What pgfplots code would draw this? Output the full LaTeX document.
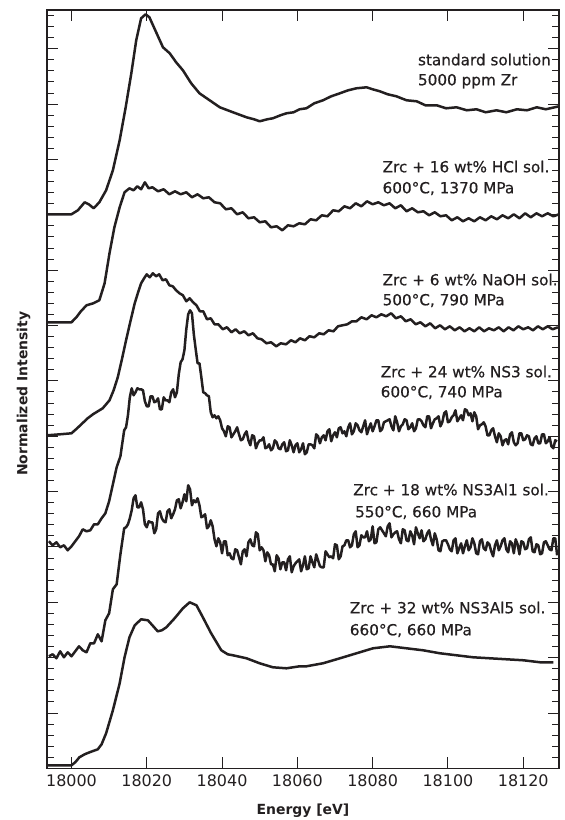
\documentclass[border=0pt]{standalone}
\usepackage{fontspec}
\setmainfont{DejaVu Sans}
\newfontfamily\lbl{DejaVu Sans}[FakeBold=0.5]
\usepackage{pgfplots}
\pgfplotsset{compat=1.18}
\definecolor{ink}{RGB}{35,31,32}
\tikzset{curve/.style={ink, solid, line width=2.5bp, line join=round, mark=none}}

\begin{document}
\begin{tikzpicture}
\begin{axis}[
    scale only axis,
    width=512bp, height=758.3bp,
    xmin=17993.5, xmax=18129.5,
    ymin=0, ymax=7.583,
    xtick={18000,18020,...,18120},
    minor x tick num=9,
    ytick={0,0.5535,...,7.5},
    minor y tick num=4,
    yticklabels={},
    scaled x ticks=false,
    major tick length=11bp,
    minor tick length=7bp,
    axis line style={line width=1.2bp, ink},
    every tick/.style={line width=0.9bp, ink},
    /pgf/number format/1000 sep={},
    /pgf/number format/assume math mode=true,
    xticklabel style={font=\fontsize{16}{18}\selectfont, yshift=-2.5bp, text=ink},
    clip=false,
]

% standard solution 5000 ppm Zr
\addplot[curve] coordinates {
(17993.5,5.54) (17998,5.54) (18000,5.54) (18001.7,5.58) (18003.5,5.66) (18004.6,5.64)
(18005.9,5.60) (18007.4,5.66) (18009.2,5.78) (18011,5.98) (18012.8,6.28) (18014.4,6.61)
(18015.9,6.95) (18017.2,7.28) (18018.5,7.50) (18019.7,7.54) (18020.7,7.51) (18022.5,7.36)
(18024.3,7.21) (18026.1,7.15) (18027.8,7.06) (18029.6,6.98) (18031.8,6.85) (18034,6.75)
(18036.7,6.68) (18039.4,6.61) (18042.9,6.56) (18046.5,6.51) (18048.5,6.49) (18050,6.47)
(18052,6.49) (18053.5,6.50) (18055.5,6.53) (18057.1,6.55) (18059,6.56) (18060.6,6.59)
(18062.4,6.60) (18064.5,6.65) (18066.8,6.68) (18069,6.72) (18071.3,6.75) (18073.5,6.78)
(18075.7,6.80) (18078.4,6.81) (18080,6.79) (18081.9,6.77) (18084,6.74) (18086.3,6.72)
(18089,6.68) (18091.7,6.67) (18094,6.63) (18097,6.63) (18099.5,6.60) (18102.3,6.61)
(18105,6.58) (18107.6,6.59) (18110,6.56) (18112.9,6.58) (18115.5,6.56) (18118.3,6.59)
(18121,6.58) (18123.6,6.61) (18126,6.59) (18129.5,6.62)
};

% Zrc + 16 wt% HCl
\addplot[curve] coordinates {
(17993.5,4.46) (17998,4.46) (18000,4.46) (18001.3,4.51) (18002.5,4.57) (18004,4.63)
(18005.8,4.65) (18007.4,4.68) (18008.8,4.85) (18010.1,5.15) (18011.4,5.41) (18012.8,5.61)
(18014.1,5.76) (18015.4,5.80) (18016.5,5.78) (18017.5,5.82) (18018.5,5.79) (18019.5,5.86)
(18020.5,5.80) (18021.5,5.81) (18023,5.77) (18024.5,5.79) (18026,5.74) (18027.5,5.77)
(18029,5.74) (18030.5,5.76) (18032,5.71) (18033.5,5.74) (18035,5.70) (18036.5,5.71)
(18038,5.66) (18039.5,5.65) (18041,5.59) (18042.5,5.60) (18044,5.54) (18045.5,5.56)
(18047,5.50) (18048.5,5.51) (18050,5.46) (18051.5,5.47) (18053,5.41) (18054.5,5.42)
(18056,5.38) (18057.5,5.43) (18059,5.42) (18060.5,5.45) (18062,5.44) (18063.5,5.49)
(18065,5.48) (18066.5,5.53) (18068,5.52) (18069.5,5.58) (18071,5.57) (18072.5,5.62)
(18074,5.60) (18075.5,5.65) (18077,5.62) (18078.5,5.67) (18080,5.64) (18081.5,5.66)
(18083,5.63) (18084.5,5.65) (18086,5.60) (18087.5,5.63) (18089,5.57) (18090.5,5.60)
(18092,5.56) (18093.5,5.57) (18095,5.53) (18096.5,5.56) (18098,5.52) (18099.5,5.53)
(18101,5.48) (18102.5,5.51) (18104,5.47) (18105.5,5.50) (18107,5.47) (18108.5,5.51)
(18110,5.48) (18111.5,5.52) (18113,5.49) (18114.5,5.53) (18116,5.50) (18117.5,5.54)
(18119,5.50) (18120.5,5.55) (18122,5.51) (18123.5,5.55) (18125,5.52) (18126.5,5.55)
(18128,5.52) (18129.5,5.54)
};

% Zrc + 6 wt% NaOH
\addplot[curve] coordinates {
(17993.5,3.33) (17997,3.34) (18000,3.35) (18001.5,3.40) (18002.9,3.45) (18004.3,3.50)
(18005.7,3.54) (18007,3.57) (18008.3,3.60) (18010.1,3.68) (18011.2,3.78) (18012.3,3.91)
(18013.4,4.09) (18014.5,4.28) (18015.6,4.46) (18016.8,4.65) (18017.7,4.76) (18018.5,4.85)
(18019.3,4.90) (18020,4.94) (18020.8,4.91) (18021.6,4.95) (18022.5,4.92) (18023.3,4.94)
(18024.2,4.88) (18025.1,4.89) (18026,4.83) (18026.9,4.82) (18027.8,4.78) (18028.7,4.75)
(18029.6,4.73) (18030.5,4.67) (18031.4,4.70) (18032.3,4.66) (18033.2,4.63) (18034.1,4.57)
(18035,4.57) (18036,4.49) (18037,4.50) (18038,4.44) (18039,4.44) (18040.2,4.39)
(18041.3,4.41) (18042.5,4.36) (18043.6,4.39) (18044.7,4.35) (18045.9,4.37) (18047,4.33)
(18048.2,4.35) (18049.4,4.30) (18050.5,4.29) (18051.8,4.25) (18053,4.26) (18054.4,4.22)
(18055.6,4.25) (18057,4.24) (18058.3,4.28) (18059.5,4.26) (18060.7,4.30) (18062,4.28)
(18063.2,4.32) (18064.5,4.31) (18065.8,4.35) (18067,4.34) (18068.3,4.38) (18069.6,4.37)
(18070.8,4.42) (18072,4.43) (18073.3,4.44) (18074.5,4.47) (18075.7,4.47) (18077,4.51)
(18078.4,4.49) (18079.7,4.53) (18081,4.51) (18082.3,4.54) (18083.6,4.52) (18084.9,4.55)
(18086.2,4.50) (18087.5,4.52) (18088.8,4.47) (18090.1,4.49) (18091.4,4.44) (18092.7,4.46)
(18094,4.42) (18095.3,4.45) (18096.6,4.40) (18097.9,4.43) (18099.2,4.39) (18100.5,4.42)
(18101.8,4.38) (18103.1,4.41) (18104.4,4.37) (18105.7,4.40) (18107,4.37) (18108.3,4.41)
(18109.6,4.37) (18110.9,4.40) (18112.2,4.38) (18113.5,4.41) (18114.8,4.37) (18116.1,4.41)
(18117.4,4.38) (18118.7,4.42) (18120,4.39) (18121.3,4.41) (18122.6,4.38) (18123.9,4.42)
(18125.2,4.39) (18126.5,4.42) (18127.8,4.39) (18129.2,4.41)
};

% Zrc + 24 wt% NS3
\addplot[curve] coordinates {
(17994,2.27) (17995,2.23) (17996,2.26) (17997,2.21) (17998,2.23) (17999,2.18)
(18000,2.22) (18001,2.27) (18002,2.32) (18003,2.39) (18004,2.37) (18005,2.38)
(18006,2.44) (18007,2.44) (18008,2.50) (18009,2.55) (18010,2.67) (18011,2.84)
(18012,3.01) (18013,3.12)
(18014,3.38) (18014.5,3.41) (18015,3.53) (18015.5,3.71) (18016,3.80) (18016.5,3.73)
(18017,3.76) (18017.5,3.80) (18018,3.79) (18018.5,3.79) (18019,3.78) (18019.5,3.67)
(18020,3.62) (18020.5,3.62) (18021,3.72) (18021.5,3.72) (18022,3.66) (18022.5,3.67)
(18023,3.70) (18023.5,3.59) (18024,3.59) (18024.5,3.71) (18025,3.68) (18025.5,3.68)
(18026,3.66) (18026.5,3.76) (18027,3.79) (18027.5,3.71) (18028,3.76) (18028.5,3.94)
(18029,4.06) (18029.5,4.09) (18030,4.18) (18030.5,4.39) (18031,4.54) (18031.5,4.58)
(18032,4.55) (18032.5,4.34) (18033,4.19) (18033.5,4.05) (18034,4.05) (18034.5,3.91)
(18035,3.76) (18035.5,3.75) (18036,3.73) (18036.5,3.72) (18037,3.56) (18037.5,3.51)
(18038,3.53) (18038.5,3.50) (18039,3.52) (18039.5,3.48) (18040,3.40) (18040.5,3.37)
(18041,3.32) (18041.5,3.42) (18042,3.41) (18042.5,3.31) (18043,3.34) (18043.5,3.37)
(18044,3.41) (18044.5,3.34) (18045,3.28) (18045.5,3.29) (18046,3.34) (18046.5,3.37)
(18047,3.28) (18047.5,3.23) (18048,3.33) (18048.5,3.32) (18049,3.20) (18049.5,3.25)
(18050,3.28) (18050.5,3.28) (18051,3.31) (18051.5,3.20) (18052,3.21) (18052.5,3.24)
(18053,3.18) (18053.5,3.20) (18054,3.28) (18054.5,3.26) (18055,3.20) (18055.5,3.19)
(18056,3.24) (18056.5,3.26) (18057,3.17) (18057.5,3.18) (18058,3.28) (18058.5,3.23)
(18059,3.16) (18059.5,3.23) (18060,3.25) (18060.5,3.16) (18061,3.19) (18061.5,3.25)
(18062,3.14) (18062.5,3.16) (18063,3.24) (18063.5,3.24) (18064,3.23) (18064.5,3.20)
(18065,3.34) (18065.5,3.32) (18066,3.25) (18066.5,3.31) (18067,3.33) (18067.5,3.28)
(18068,3.37) (18068.5,3.39) (18069,3.27) (18069.5,3.33) (18070,3.36) (18070.5,3.31)
(18071,3.40) (18071.5,3.41) (18072,3.35) (18072.5,3.37) (18073,3.32) (18073.5,3.41)
(18074,3.45) (18074.5,3.34) (18075,3.37) (18075.5,3.45) (18076,3.43) (18076.5,3.38)
(18077,3.36) (18077.5,3.42) (18078,3.48) (18078.5,3.34) (18079,3.40) (18079.5,3.45)
(18080,3.37) (18080.5,3.42) (18081,3.48) (18081.5,3.48) (18082,3.37) (18082.5,3.39)
(18083,3.46) (18083.5,3.47) (18084,3.48) (18084.5,3.49) (18085,3.42) (18085.5,3.38)
(18086,3.52) (18086.5,3.46) (18087,3.37) (18087.5,3.42) (18088,3.44) (18088.5,3.49)
(18089,3.48) (18089.5,3.39) (18090,3.41) (18090.5,3.45) (18091,3.37) (18091.5,3.40)
(18092,3.49) (18092.5,3.49) (18093,3.47) (18093.5,3.43) (18094,3.41) (18094.5,3.52)
(18095,3.52) (18095.5,3.40) (18096,3.45) (18096.5,3.49) (18097,3.50) (18097.5,3.52)
(18098,3.42) (18098.5,3.46) (18099,3.55) (18099.5,3.57) (18100,3.46) (18100.5,3.47)
(18101,3.51) (18101.5,3.53) (18102,3.58) (18102.5,3.47) (18103,3.50) (18103.5,3.53)
(18104,3.48) (18104.5,3.59) (18105,3.58) (18105.5,3.53) (18106,3.55) (18106.5,3.47)
(18107,3.56) (18107.5,3.52) (18108,3.39) (18108.5,3.43) (18109,3.44) (18109.5,3.46)
(18110,3.42) (18110.5,3.33) (18111,3.33) (18111.5,3.38) (18112,3.40) (18112.5,3.32)
(18113,3.26) (18113.5,3.35) (18114,3.32) (18114.5,3.23) (18115,3.28) (18115.5,3.29)
(18116,3.24) (18116.5,3.34) (18117,3.36) (18117.5,3.26) (18118,3.23) (18118.5,3.25)
(18119,3.35) (18119.5,3.35) (18120,3.28) (18120.5,3.29) (18121,3.33) (18121.5,3.32)
(18122,3.24) (18122.5,3.23) (18123,3.30) (18123.5,3.32) (18124,3.25) (18124.5,3.25)
(18125,3.34) (18125.5,3.34) (18126,3.25) (18126.5,3.27) (18127,3.31) (18127.5,3.22)
(18128,3.20) (18128.5,3.28) (18129,3.27)
};

% Zrc + 18 wt% NS3Al1
\addplot[curve] coordinates {
(17994,1.12) (17995,1.14) (17996,1.10) (17997,1.17) (17998,1.11) (17999,1.16)
(18000,1.12) (18001,1.17) (18002,1.22) (18003,1.18) (18004,1.16) (18005,1.25)
(18006,1.25) (18007,1.34) (18008,1.27) (18009,1.48) (18010,1.55) (18011,1.79)
(18012,1.84) (18013,2.14)
(18014,2.40) (18014.5,2.41) (18015,2.44) (18015.5,2.50) (18016,2.58) (18016.5,2.70)
(18017,2.73) (18017.5,2.61) (18018,2.61) (18018.5,2.66) (18019,2.59) (18019.5,2.44)
(18020,2.41) (18020.5,2.47) (18021,2.46) (18021.5,2.46) (18022,2.35) (18022.5,2.39)
(18023,2.55) (18023.5,2.57) (18024,2.50) (18024.5,2.47) (18025,2.46) (18025.5,2.57)
(18026,2.59) (18026.5,2.50) (18027,2.54) (18027.5,2.59) (18028,2.68) (18028.5,2.69)
(18029,2.60) (18029.5,2.66) (18030,2.74) (18030.5,2.67) (18031,2.83) (18031.5,2.79)
(18032,2.63) (18032.5,2.68) (18033,2.66) (18033.5,2.70) (18034,2.63) (18034.5,2.51)
(18035,2.52) (18035.5,2.54) (18036,2.40) (18036.5,2.42) (18037,2.48) (18037.5,2.42)
(18038,2.29) (18038.5,2.22) (18039,2.30) (18039.5,2.26) (18040,2.15) (18040.5,2.27)
(18041,2.27) (18041.5,2.13) (18042,2.15) (18042.5,2.10) (18043,2.09) (18043.5,2.19)
(18044,2.18) (18044.5,2.11) (18045,2.04) (18045.5,2.17) (18046,2.19) (18046.5,2.12)
(18047,2.26) (18047.5,2.29) (18048,2.23) (18048.5,2.22) (18049,2.36) (18049.5,2.34)
(18050,2.18) (18050.5,2.21) (18051,2.18) (18051.5,2.07) (18052,2.16) (18052.5,2.13)
(18053,2.04) (18053.5,2.04) (18054,1.97) (18054.5,2.13) (18055,2.10) (18055.5,1.99)
(18056,2.06) (18056.5,2.06) (18057,1.98) (18057.5,2.09) (18058,2.12) (18058.5,1.96)
(18059,2.02) (18059.5,2.05) (18060,2.07) (18060.5,2.09) (18061,1.97) (18061.5,2.03)
(18062,2.12) (18062.5,1.99) (18063,2.00) (18063.5,2.12) (18064,2.06) (18064.5,2.01)
(18065,2.14) (18065.5,2.08) (18066,2.02) (18066.5,2.01) (18067,2.01) (18067.5,2.17)
(18068,2.14) (18068.5,2.11) (18069,2.12) (18069.5,2.10) (18070,2.24) (18070.5,2.23)
(18071,2.09) (18071.5,2.12) (18072,2.22) (18072.5,2.23) (18073,2.28) (18073.5,2.28)
(18074,2.21) (18074.5,2.23) (18075,2.34) (18075.5,2.37) (18076,2.21) (18076.5,2.23)
(18077,2.33) (18077.5,2.31) (18078,2.31) (18078.5,2.37) (18079,2.27) (18079.5,2.29)
(18080,2.42) (18080.5,2.25) (18081,2.26) (18081.5,2.39) (18082,2.41) (18082.5,2.38)
(18083,2.35) (18083.5,2.32) (18084,2.42) (18084.5,2.45) (18085,2.31) (18085.5,2.34)
(18086,2.36) (18086.5,2.37) (18087,2.29) (18087.5,2.25) (18088,2.39) (18088.5,2.38)
(18089,2.28) (18089.5,2.27) (18090,2.37) (18090.5,2.33) (18091,2.24) (18091.5,2.41)
(18092,2.35) (18092.5,2.30) (18093,2.38) (18093.5,2.27) (18094,2.29) (18094.5,2.35)
(18095,2.38) (18095.5,2.29) (18096,2.23) (18096.5,2.35) (18097,2.29) (18097.5,2.18)
(18098,2.17) (18098.5,2.27) (18099,2.28) (18099.5,2.28) (18100,2.24) (18100.5,2.19)
(18101,2.17) (18101.5,2.28) (18102,2.30) (18102.5,2.15) (18103,2.20) (18103.5,2.25)
(18104,2.15) (18104.5,2.22) (18105,2.28) (18105.5,2.18) (18106,2.21) (18106.5,2.30)
(18107,2.25) (18107.5,2.15) (18108,2.14) (18108.5,2.27) (18109,2.29) (18109.5,2.20)
(18110,2.18) (18110.5,2.26) (18111,2.24) (18111.5,2.17) (18112,2.12) (18112.5,2.23)
(18113,2.28) (18113.5,2.18) (18114,2.22) (18114.5,2.28) (18115,2.30) (18115.5,2.19)
(18116,2.16) (18116.5,2.27) (18117,2.25) (18117.5,2.15) (18118,2.29) (18118.5,2.24)
(18119,2.14) (18119.5,2.27) (18120,2.26) (18120.5,2.19) (18121,2.20) (18121.5,2.29)
(18122,2.31) (18122.5,2.17) (18123,2.16) (18123.5,2.24) (18124,2.23) (18124.5,2.14)
(18125,2.15) (18125.5,2.26) (18126,2.27) (18126.5,2.23) (18127,2.19) (18127.5,2.18)
(18128,2.30) (18128.5,2.30) (18129,2.13)
};

% Zrc + 32 wt% NS3Al5
\addplot[curve] coordinates {
(17993.5,0.03) (18000,0.03) (18001,0.06) (18002.1,0.11) (18003.5,0.14) (18004.8,0.16)
(18007,0.19) (18008,0.24) (18009.2,0.35) (18011,0.58) (18012.8,0.85) (18014.1,1.11)
(18015.4,1.31) (18016.8,1.43) (18018.5,1.49) (18020.3,1.48) (18021.5,1.43) (18022.9,1.37)
(18024,1.38) (18025.2,1.41) (18027.4,1.50) (18029.6,1.60) (18031.4,1.66) (18033.2,1.63)
(18034.9,1.51) (18037.1,1.35) (18039.8,1.18) (18041.5,1.14) (18042.9,1.13) (18046.5,1.10)
(18050,1.05) (18053.5,1.01) (18057.1,1.00) (18060.6,1.02) (18062.4,1.02) (18066.8,1.05)
(18071.3,1.10) (18075.7,1.15) (18080.1,1.20) (18084.6,1.22) (18089,1.20) (18093.4,1.18)
(18097.9,1.15) (18102.3,1.13) (18106.7,1.11) (18111.2,1.10) (18115.6,1.09) (18120.1,1.08)
(18124.5,1.06) (18128,1.06)
};

\begin{scope}[every node/.style={anchor=base west, inner sep=0pt, text=ink,
    font=\lbl\fontsize{15.3}{18}\selectfont}]
\node at (axis cs:18092.0,7.03) {standard solution};
\node at (axis cs:18092.0,6.83) {5000 ppm Zr};
\node at (axis cs:18082.6,5.96) {Zrc + 16 wt\% HCl sol.};
\node at (axis cs:18082.6,5.75) {600°C, 1370 MPa};
\node at (axis cs:18082.6,4.83) {Zrc + 6 wt\% NaOH sol.};
\node at (axis cs:18082.6,4.63) {500°C, 790 MPa};
\node at (axis cs:18082.1,3.91) {Zrc + 24 wt\% NS3 sol.};
\node at (axis cs:18082.1,3.71) {600°C, 740 MPa};
\node at (axis cs:18074.8,2.73) {Zrc + 18 wt\% NS3Al1 sol.};
\node at (axis cs:18075.3,2.51) {550°C, 660 MPa};
\node at (axis cs:18073.9,1.55) {Zrc + 32 wt\% NS3Al5 sol.};
\node at (axis cs:18073.9,1.33) {660°C, 660 MPa};
\end{scope}

\node[anchor=base, inner sep=0pt, text=ink, font=\bfseries\fontsize{14}{16}\selectfont]
    at (rel axis cs:0.5,-0.0603) {Energy [eV]};
\node[anchor=base, rotate=90, inner sep=0pt, text=ink, font=\bfseries\fontsize{14}{16}\selectfont]
    at (rel axis cs:-0.0381,0.494) {Normalized Intensity};

\coordinate (A) at (rel axis cs:0,0);
\coordinate (B) at (rel axis cs:1,1);
\end{axis}
\pgfresetboundingbox
\path ([shift={(-47bp,-51.7bp)}]A) rectangle ([shift={(6bp,10bp)}]B);
\end{tikzpicture}
\end{document}
